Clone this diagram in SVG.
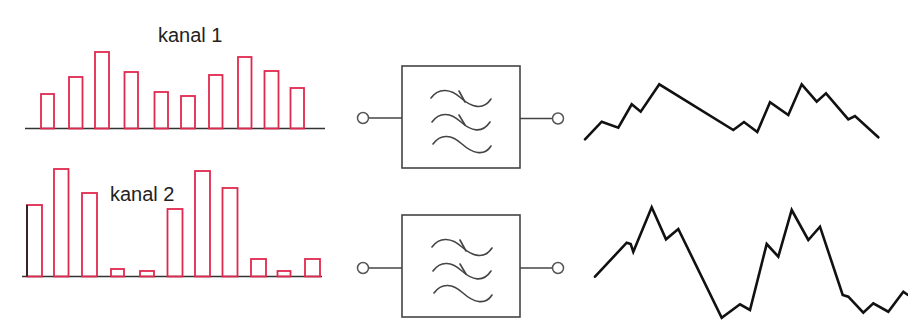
<svg xmlns="http://www.w3.org/2000/svg" width="908" height="329" viewBox="0 0 908 329">
<style>
.bar{fill:none;stroke:#e0284f;stroke-width:1.8}
.base{stroke:#333;stroke-width:1.5}
.lbl{font-family:"Liberation Sans",Arial,sans-serif;font-size:20px;fill:#222}
.box{fill:#fff;stroke:#444;stroke-width:1.6}
.term{fill:#fff;stroke:#555;stroke-width:1.5}
.lead{stroke:#444;stroke-width:1.5}
.wave{fill:none;stroke:#444;stroke-width:1.6;stroke-linecap:round}
.sig{fill:none;stroke:#111;stroke-width:2.6;stroke-linejoin:miter;stroke-linecap:round}
</style>
<rect width="908" height="329" fill="#fff"/>
<defs>
<g id="waves">
<path class="wave" d="M431,98 C439,87 451,89 461,98 S483,111 491,99"/>
<path class="wave" d="M432,122 C440,111 451,113 461,122 S482,134 490,122"/>
<path class="wave" d="M433,144 C441,133 452,135 462,144 S484,157 491,146"/>
<path class="wave" d="M459,91 L465,102"/>
<path class="wave" d="M459,115 L465,125"/>
</g>
</defs>
<g id="chart1">
<line class="base" x1="25" y1="128.5" x2="325" y2="128.5"/>
<rect class="bar" x="41" y="94" width="13" height="34.5"/>
<rect class="bar" x="69" y="77" width="13.5" height="51.5"/>
<rect class="bar" x="95" y="52" width="14" height="76.5"/>
<rect class="bar" x="124.5" y="72" width="13.5" height="56.5"/>
<rect class="bar" x="154.5" y="92" width="13.5" height="36.5"/>
<rect class="bar" x="181" y="96" width="14" height="32.5"/>
<rect class="bar" x="209" y="75" width="13.5" height="53.5"/>
<rect class="bar" x="238" y="57" width="13.5" height="71.5"/>
<rect class="bar" x="264.5" y="71" width="14" height="57.5"/>
<rect class="bar" x="290.5" y="88" width="13.5" height="40.5"/>
<text class="lbl" x="158" y="42">kanal 1</text>
</g>
<g id="chart2">
<line class="base" x1="22" y1="276.5" x2="322" y2="276.5"/>
<rect class="bar" x="27" y="205" width="15" height="71.5"/>
<line x1="27" y1="205" x2="27" y2="276.5" stroke="#222" stroke-width="1.8"/>
<rect class="bar" x="54" y="169" width="14.5" height="107.5"/>
<rect class="bar" x="82" y="193" width="15" height="83.5"/>
<rect class="bar" x="111" y="269" width="13" height="7.5"/>
<rect class="bar" x="140" y="271" width="14" height="5.5"/>
<rect class="bar" x="167.5" y="209" width="15" height="67.5"/>
<rect class="bar" x="195" y="171" width="15" height="105.5"/>
<rect class="bar" x="222.5" y="188" width="15" height="88.5"/>
<rect class="bar" x="251" y="259" width="15" height="17.5"/>
<rect class="bar" x="277.5" y="271" width="13" height="5.5"/>
<rect class="bar" x="305" y="259" width="15" height="17.5"/>
<text class="lbl" x="110" y="201">kanal 2</text>
</g>
<g id="connectors">
<line class="lead" x1="368.5" y1="118" x2="402" y2="118"/>
<line class="lead" x1="520" y1="118.5" x2="552.5" y2="118.5"/>
<line class="lead" x1="368.5" y1="268" x2="402" y2="268"/>
<line class="lead" x1="520" y1="268" x2="552.5" y2="268"/>
</g>
<g id="filter1">
<rect class="box" x="402" y="66" width="118" height="102"/>
<use href="#waves"/>
<circle class="term" cx="363" cy="118" r="5.5"/>
<circle class="term" cx="558" cy="118.5" r="5.5"/>
</g>
<g id="filter2">
<rect class="box" x="402" y="215" width="118" height="102"/>
<use href="#waves" transform="translate(1,149)"/>
<circle class="term" cx="363" cy="268" r="5.5"/>
<circle class="term" cx="558" cy="268" r="5.5"/>
</g>
<g id="signal1">
<polyline class="sig" points="585,139.3 601.7,121.7 618.3,127.7 631.7,104.3 640.7,111.7 659.3,84.3 733.3,130 744,122 757.3,132 770,102.3 788.3,115 801.7,84.3 816.7,101.7 826,93.3 848.3,119.3 855,116 878.3,137.3"/>
</g>
<g id="signal2">
<polyline class="sig" points="595,276.7 626.7,242.7 630.7,244 633.3,251.7 651.7,207.3 666,239.3 678.3,229 721.7,317.7 740,304.3 750,310 766.7,244 778.3,256.7 791.7,210 808.3,240 820,226.7 842.7,295 848.3,296.7 863.3,312.7 873.3,303.3 888.3,311.7 903.3,291.7 908,295"/>
</g>
</svg>
